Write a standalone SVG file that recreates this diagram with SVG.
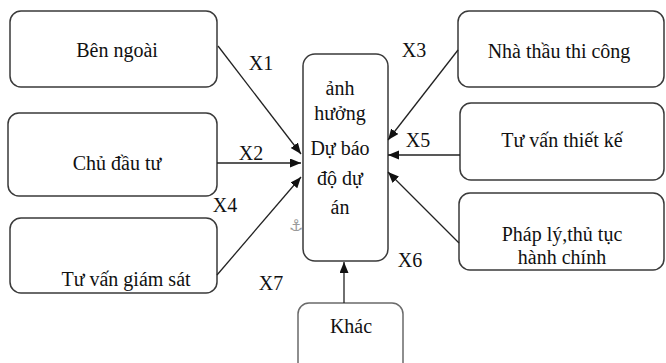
<svg xmlns="http://www.w3.org/2000/svg" width="666" height="363" viewBox="0 0 666 363">
  <style>
    .box { fill: #ffffff; stroke: #3a3a3a; stroke-width: 1.5; }
    .box-light { fill: #ffffff; stroke: #6a6a6a; stroke-width: 1.5; }
    .label { font-family: "Liberation Serif", "Times New Roman", serif; font-size: 20px; fill: #111111; text-anchor: middle; }
    .edge { stroke: #222222; stroke-width: 1.3; fill: none; marker-end: url(#arrow); }
    .anchor { font-family: "DejaVu Sans", sans-serif; font-size: 16px; fill: #9a9a9a; text-anchor: middle; }
  </style>
  <defs>
    <marker id="arrow" markerUnits="userSpaceOnUse" markerWidth="12" markerHeight="10" refX="11" refY="4.5" orient="auto">
      <path d="M0,0 L11,4.5 L0,9 z" fill="#111111"/>
    </marker>
  </defs>
  <rect width="666" height="363" fill="#ffffff"/>

  <g id="ben-ngoai">
    <rect class="box" x="10" y="11" width="207" height="76" rx="11"/>
    <text class="label" x="117" y="57">Bên ngoài</text>
  </g>
  <g id="chu-dau-tu">
    <rect class="box" x="8" y="113" width="209" height="83" rx="11"/>
    <text class="label" x="117" y="170">Chủ đầu tư</text>
  </g>
  <g id="tu-van-giam-sat">
    <rect class="box" x="10" y="218" width="207" height="75" rx="11"/>
    <text class="label" x="126" y="286">Tư vấn giám sát</text>
  </g>

  <g id="du-bao">
    <rect class="box" x="303" y="54" width="85" height="207" rx="12"/>
    <text class="label" x="340" y="95">ảnh</text>
    <text class="label" x="340" y="120">hưởng</text>
    <text class="label" x="340" y="155">Dự báo</text>
    <text class="label" x="340" y="185">độ dự</text>
    <text class="label" x="340" y="214">án</text>
    <text class="anchor" x="296" y="231">⚓</text>
  </g>

  <g id="nha-thau">
    <rect class="box" x="458" y="11" width="206" height="76" rx="11"/>
    <text class="label" x="559" y="58">Nhà thầu thi công</text>
  </g>
  <g id="tu-van-thiet-ke">
    <rect class="box" x="460" y="103" width="204" height="77" rx="11"/>
    <text class="label" x="562" y="147">Tư vấn thiết kế</text>
  </g>
  <g id="phap-ly">
    <rect class="box" x="459" y="193" width="205" height="77" rx="11"/>
    <text class="label" x="562" y="241">Pháp lý,thủ tục</text>
    <text class="label" x="562" y="264">hành chính</text>
  </g>
  <g id="khac">
    <rect class="box-light" x="298" y="303" width="105" height="75" rx="11"/>
    <text class="label" x="351" y="333">Khác</text>
  </g>

  <g id="connectors">
    <path class="edge" d="M218,46 L301,154"/>
    <path class="edge" d="M217,163 L301,163"/>
    <path class="edge" d="M217,275 L301,177"/>
    <path class="edge" d="M458,50 L388,140"/>
    <path class="edge" d="M460,155 L388,155"/>
    <path class="edge" d="M459,243 L388,172"/>
    <path class="edge" d="M344,303 L344,262"/>
    <text class="label" x="261" y="70">X1</text>
    <text class="label" x="251" y="160">X2</text>
    <text class="label" x="225" y="212">X4</text>
    <text class="label" x="271" y="290">X7</text>
    <text class="label" x="414" y="57">X3</text>
    <text class="label" x="418" y="147">X5</text>
    <text class="label" x="410" y="267">X6</text>
  </g>
</svg>
